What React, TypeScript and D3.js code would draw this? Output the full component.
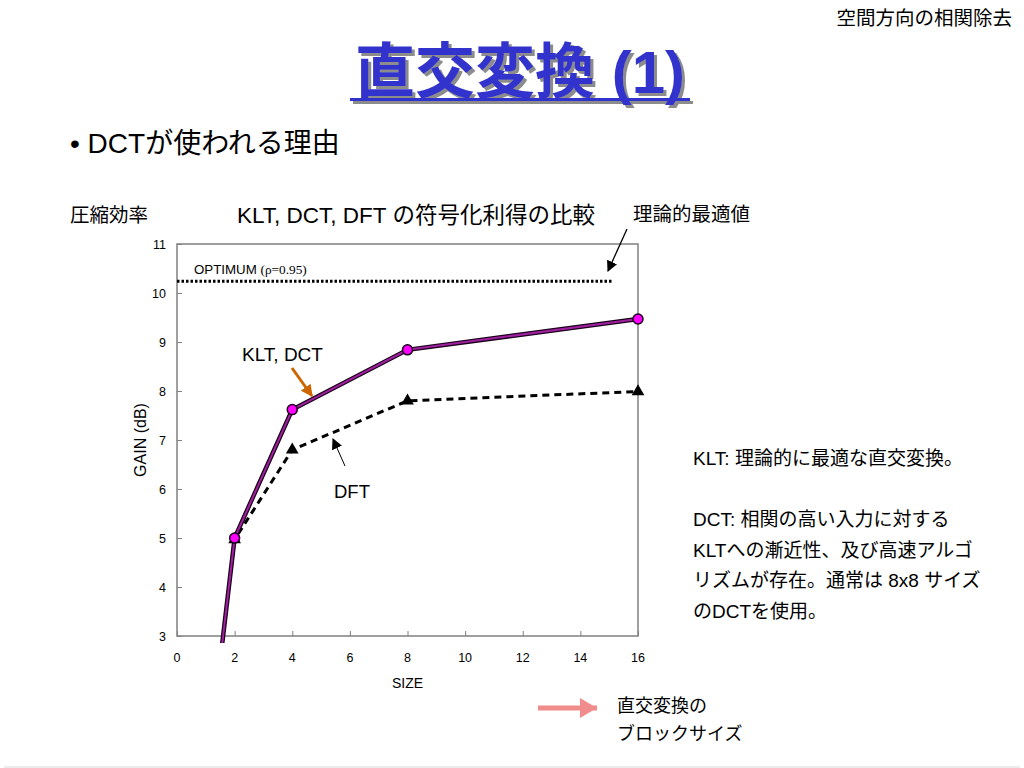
import React, { useEffect, useRef } from "react";
import * as d3 from "d3";

// block sizes and coding gains (dB)
const sizes = [1, 2, 4, 8, 16];
const kltGain = [0, 5.0, 7.62, 8.84, 9.47];
const dftGain = [0, 4.97, 6.8, 7.8, 7.99];
const optimumX = [0, 15.1];
const optimumGain = 10.24;
const xTicks = [0, 2, 4, 6, 8, 10, 12, 14, 16];
const yTicks = [3, 4, 5, 6, 7, 8, 9, 10, 11];

const sideNotes = [
  "KLT: 理論的に最適な直交変換。",
  "",
  "DCT: 相関の高い入力に対する",
  "KLTへの漸近性、及び高速アルゴ",
  "リズムが存在。通常は 8x8 サイズ",
  "のDCTを使用。",
];

const SANS = "'Liberation Sans', Arial, 'Noto Sans CJK JP', sans-serif";

const App: React.FC = () => {
  const svgRef = useRef<SVGSVGElement | null>(null);

  useEffect(() => {
    const width = 1024;
    const height = 768;
    const plot = { left: 177, right: 638, top: 244, bottom: 636 };

    d3.select(svgRef.current).selectAll("*").remove();

    const svg = d3
      .select(svgRef.current)
      .attr("width", width)
      .attr("height", height)
      .style("font-family", SANS);

    svg.append("rect").attr("width", width).attr("height", height).attr("fill", "#fff");

    const defs = svg.append("defs");
    defs
      .append("clipPath")
      .attr("id", "plotClip")
      .append("rect")
      .attr("x", plot.left)
      .attr("y", plot.top)
      .attr("width", plot.right - plot.left + 10)
      .attr("height", plot.bottom - plot.top + 7);

    defs
      .append("filter")
      .attr("id", "titleShadow")
      .attr("x", "-5%")
      .attr("y", "-10%")
      .attr("width", "115%")
      .attr("height", "130%")
      .append("feDropShadow")
      .attr("dx", 3)
      .attr("dy", 3)
      .attr("stdDeviation", 0.6)
      .attr("flood-color", "#8c8c8c")
      .attr("flood-opacity", 1);

    const arrowHead = (id: string, color: string, size: number) => {
      defs
        .append("marker")
        .attr("id", id)
        .attr("viewBox", "0 0 10 10")
        .attr("refX", 9)
        .attr("refY", 5)
        .attr("markerWidth", size)
        .attr("markerHeight", size)
        .attr("markerUnits", "userSpaceOnUse")
        .attr("orient", "auto")
        .append("path")
        .attr("d", "M0,0 L10,5 L0,10 Z")
        .attr("fill", color);
    };
    arrowHead("headBlack", "#000", 11);
    arrowHead("headOrange", "#cc6600", 12);

    // header
    svg
      .append("text")
      .attr("x", 1012)
      .attr("y", 25)
      .attr("text-anchor", "end")
      .attr("font-size", 19.5)
      .text("空間方向の相関除去");

    const title = svg.append("g").attr("filter", "url(#titleShadow)");
    title
      .append("text")
      .attr("x", 520)
      .attr("y", 93)
      .attr("text-anchor", "middle")
      .attr("font-size", 60)
      .attr("font-weight", "bold")
      .attr("fill", "#3333cc")
      .text("直交変換 (1)");
    title
      .append("rect")
      .attr("x", 350)
      .attr("y", 98)
      .attr("width", 340)
      .attr("height", 3)
      .attr("fill", "#3333cc");

    svg
      .append("text")
      .attr("x", 70)
      .attr("y", 153)
      .attr("font-size", 28)
      .text("• DCTが使われる理由");

    svg.append("text").attr("x", 70).attr("y", 222).attr("font-size", 19.5).text("圧縮効率");
    svg
      .append("text")
      .attr("x", 237)
      .attr("y", 223)
      .attr("font-size", 22.5)
      .text("KLT, DCT, DFT の符号化利得の比較");
    svg.append("text").attr("x", 633).attr("y", 221).attr("font-size", 19.5).text("理論的最適値");

    // scales
    const x = d3.scaleLinear().domain([0, 16]).range([plot.left, plot.right]);
    const y = d3.scaleLinear().domain([3, 11]).range([plot.bottom, plot.top]);

    // frame
    svg
      .append("rect")
      .attr("x", plot.left)
      .attr("y", plot.top)
      .attr("width", plot.right - plot.left)
      .attr("height", plot.bottom - plot.top)
      .attr("fill", "none")
      .attr("stroke", "#808080")
      .attr("stroke-width", 1.5);

    // axes (ticks pointing inward)
    const xAxis = svg
      .append("g")
      .attr("transform", `translate(0,${plot.bottom})`)
      .call(d3.axisTop(x).tickValues(xTicks).tickSize(5).tickFormat(() => ""));
    xAxis.select(".domain").remove();
    xAxis.selectAll("line").attr("stroke", "#808080");
    svg
      .append("g")
      .selectAll("text")
      .data(xTicks)
      .join("text")
      .attr("x", (d) => x(d))
      .attr("y", plot.bottom + 26)
      .attr("text-anchor", "middle")
      .attr("font-size", 12.5)
      .text((d) => d);

    const yAxis = svg
      .append("g")
      .attr("transform", `translate(${plot.left},0)`)
      .call(d3.axisRight(y).tickValues(yTicks).tickSize(5).tickFormat(() => ""));
    yAxis.select(".domain").remove();
    yAxis.selectAll("line").attr("stroke", "#808080");
    svg
      .append("g")
      .selectAll("text")
      .data(yTicks)
      .join("text")
      .attr("x", plot.left - 11)
      .attr("y", (d) => y(d) + 4.5)
      .attr("text-anchor", "end")
      .attr("font-size", 12.5)
      .text((d) => d);

    svg
      .append("text")
      .attr("transform", `translate(146,${(plot.top + plot.bottom) / 2}) rotate(-90)`)
      .attr("text-anchor", "middle")
      .attr("font-size", 16)
      .text("GAIN (dB)");
    svg
      .append("text")
      .attr("x", x(8))
      .attr("y", plot.bottom + 52)
      .attr("text-anchor", "middle")
      .attr("font-size", 14)
      .text("SIZE");

    const line = d3
      .line<number>()
      .x((_, i) => x(sizes[i]))
      .y((d) => y(d));

    const clipped = svg.append("g").attr("clip-path", "url(#plotClip)");

    // optimum
    clipped
      .append("path")
      .attr("d", d3.line<number>().x((d) => x(d)).y(() => y(optimumGain))(optimumX))
      .attr("fill", "none")
      .attr("stroke", "#000")
      .attr("stroke-width", 3)
      .attr("stroke-dasharray", "2.5,2");

    // DFT
    clipped
      .append("path")
      .attr("d", line(dftGain))
      .attr("fill", "none")
      .attr("stroke", "#000")
      .attr("stroke-width", 3)
      .attr("stroke-dasharray", "7,5");

    // KLT/DCT
    clipped
      .append("path")
      .attr("d", line(kltGain))
      .attr("fill", "none")
      .attr("stroke", "#1a001a")
      .attr("stroke-width", 4.5);
    clipped
      .append("path")
      .attr("d", line(kltGain))
      .attr("fill", "none")
      .attr("stroke", "#a020a0")
      .attr("stroke-width", 2);

    const tri = d3.symbol().type(d3.symbolTriangle).size(70);
    svg
      .append("g")
      .selectAll("path")
      .data(dftGain.slice(1))
      .join("path")
      .attr("d", tri)
      .attr("transform", (d, i) => `translate(${x(sizes[i + 1])},${y(d)})`)
      .attr("fill", "#000");

    svg
      .append("g")
      .selectAll("circle")
      .data(kltGain.slice(1))
      .join("circle")
      .attr("cx", (_, i) => x(sizes[i + 1]))
      .attr("cy", (d) => y(d))
      .attr("r", 5)
      .attr("fill", "#ff00ff")
      .attr("stroke", "#1a001a")
      .attr("stroke-width", 1.5);

    // annotations in the plot
    const opt = svg.append("text").attr("x", 194).attr("y", 274).attr("font-size", 13.3);
    opt.append("tspan").text("OPTIMUM ");
    opt
      .append("tspan")
      .attr("font-family", "'Liberation Serif', 'Times New Roman', serif")
      .text("(ρ=0.95)");

    svg
      .append("line")
      .attr("x1", 627)
      .attr("y1", 229)
      .attr("x2", 608)
      .attr("y2", 271)
      .attr("stroke", "#000")
      .attr("stroke-width", 1.3)
      .attr("marker-end", "url(#headBlack)");

    svg.append("text").attr("x", 242).attr("y", 361).attr("font-size", 19).text("KLT, DCT");
    svg
      .append("line")
      .attr("x1", 292)
      .attr("y1", 368)
      .attr("x2", 312)
      .attr("y2", 396)
      .attr("stroke", "#cc6600")
      .attr("stroke-width", 3)
      .attr("marker-end", "url(#headOrange)");

    svg.append("text").attr("x", 334).attr("y", 498).attr("font-size", 18.5).text("DFT");
    svg
      .append("line")
      .attr("x1", 345)
      .attr("y1", 466)
      .attr("x2", 333)
      .attr("y2", 439)
      .attr("stroke", "#000")
      .attr("stroke-width", 1)
      .attr("marker-end", "url(#headBlack)");

    // side notes
    svg
      .append("g")
      .selectAll("text")
      .data(sideNotes)
      .join("text")
      .attr("x", 693)
      .attr("y", (_, i) => 465 + i * 30.5)
      .attr("font-size", 19)
      .text((d) => d);

    // block size legend
    svg
      .append("line")
      .attr("x1", 538)
      .attr("y1", 708)
      .attr("x2", 597)
      .attr("y2", 708)
      .attr("stroke", "#f08c8c")
      .attr("stroke-width", 5);
    svg
      .append("path")
      .attr("d", "M580,698 L597,708 L580,718 Z")
      .attr("fill", "#f08c8c");
    svg.append("text").attr("x", 617).attr("y", 712).attr("font-size", 18).text("直交変換の");
    svg.append("text").attr("x", 617).attr("y", 740).attr("font-size", 18).text("ブロックサイズ");

    svg
      .append("line")
      .attr("x1", 4)
      .attr("y1", 767)
      .attr("x2", 1020)
      .attr("y2", 767)
      .attr("stroke", "#e4e4e4")
      .attr("stroke-width", 1.5);
  }, []);

  return (
    <div style={{ position: "absolute", left: 0, top: 0 }}>
      <svg ref={svgRef}></svg>
    </div>
  );
};

export default App;
